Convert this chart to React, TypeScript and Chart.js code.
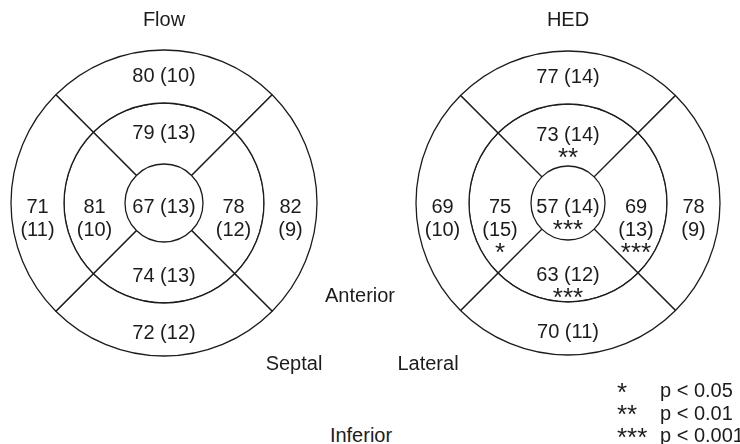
import React, { useEffect, useRef } from 'react';
import { Chart, registerables } from 'chart.js';

Chart.register(...registerables);

// ---- data ----
// segment order (clockwise from top): Anterior, Lateral, Inferior, Septal
const segmentNames = ['Anterior', 'Lateral', 'Inferior', 'Septal'];

const flowOuterMean = [80, 82, 72, 71];
const flowOuterSd = [10, 9, 12, 11];
const flowOuterSig = ['', '', '', ''];
const flowMiddleMean = [79, 78, 74, 81];
const flowMiddleSd = [13, 12, 13, 10];
const flowMiddleSig = ['', '', '', ''];
const flowApexMean = [67];
const flowApexSd = [13];
const flowApexSig = [''];

const hedOuterMean = [77, 78, 70, 69];
const hedOuterSd = [14, 9, 11, 10];
const hedOuterSig = ['', '', '', ''];
const hedMiddleMean = [73, 69, 63, 75];
const hedMiddleSd = [14, 13, 12, 15];
const hedMiddleSig = ['**', '***', '***', '*'];
const hedApexMean = [57];
const hedApexSd = [14];
const hedApexSig = ['***'];

const sigSymbols = ['*', '**', '***'];
const sigLabels = ['p < 0.05', 'p < 0.01', 'p < 0.001'];

const orientationLabels = ['Anterior', 'Septal', 'Lateral', 'Inferior'];

// ---- style ----
const INK = '#1c1c1c';
const FAMILY = '"Liberation Sans", Arial, Helvetica, sans-serif';
const FONT = `20px ${FAMILY}`;
const STAR_FONT = `26px ${FAMILY}`;

const segmentLabelPlugin = {
  id: 'segmentLabels',
  afterDatasetsDraw(chart: any) {
    const ctx = chart.ctx as CanvasRenderingContext2D;
    ctx.save();
    ctx.fillStyle = INK;
    ctx.textAlign = 'center';
    ctx.textBaseline = 'middle';
    chart.data.datasets.forEach((ds: any, di: number) => {
      const meta = chart.getDatasetMeta(di);
      meta.data.forEach((arc: any, i: number) => {
        const full = arc.circumference >= 2 * Math.PI - 1e-6;
        const pos = full ? { x: arc.x, y: arc.y } : arc.tooltipPosition(false);
        const mean = ds.means[i];
        const sd = ds.sds[i];
        const sig = ds.sigs[i];
        const side = !full && (i === 1 || i === 3);
        const lines = side ? [`${mean}`, `(${sd})`] : [`${mean} (${sd})`];
        const y0 = pos.y + (i === 0 && !full ? 0 : 4);
        ctx.font = FONT;
        lines.forEach((t, k) => ctx.fillText(t, pos.x, y0 + k * 23));
        if (sig) {
          ctx.font = STAR_FONT;
          const sy = y0 + (lines.length - 1) * 23 + 24;
          ctx.fillText(sig, pos.x, sy);
        }
      });
    });
    ctx.restore();
  },
};

function ring(means: number[], sds: number[], sigs: string[], weight: number, border: number) {
  return {
    data: means.map(() => 1),
    means,
    sds,
    sigs,
    weight,
    backgroundColor: '#ffffff',
    borderColor: INK,
    borderWidth: border,
    hoverOffset: 0,
  };
}

function makeConfig(title: string, datasets: any[], radius: number) {
  return {
    type: 'doughnut' as const,
    data: {
      labels: segmentNames,
      datasets,
    },
    options: {
      responsive: false,
      animation: false,
      events: [],
      cutout: 0,
      radius,
      rotation: -45,
      layout: { padding: { top: 0, bottom: 70, left: 0, right: 0 } },
      plugins: {
        legend: { display: false },
        tooltip: { enabled: false },
        title: {
          display: true,
          text: title,
          color: INK,
          font: { size: 20, family: FAMILY, weight: 'normal' },
          padding: { top: 8, bottom: 0 },
        },
      },
    },
    plugins: [segmentLabelPlugin],
  };
}

function Bullseye(props: { config: any; left: number }) {
  const ref = useRef<HTMLCanvasElement | null>(null);
  useEffect(() => {
    if (!ref.current) return;
    const chart = new Chart(ref.current, props.config);
    return () => chart.destroy();
  }, []);
  return (
    <canvas
      ref={ref}
      width={328}
      height={444}
      style={{ position: 'absolute', left: props.left, top: 0, width: 328, height: 444 }}
    />
  );
}

// the apex ring's outline is given by the inner edge of the middle ring
const flowConfig = makeConfig(
  'Flow',
  [
    ring(flowOuterMean, flowOuterSd, flowOuterSig, 53, 1.3),
    ring(flowMiddleMean, flowMiddleSd, flowMiddleSig, 61, 1.3),
    ring(flowApexMean, flowApexSd, flowApexSig, 39, 0),
  ],
  153
);

const hedConfig = makeConfig(
  'HED',
  [
    ring(hedOuterMean, hedOuterSd, hedOuterSig, 53, 1.3),
    ring(hedMiddleMean, hedMiddleSd, hedMiddleSig, 62, 1.3),
    ring(hedApexMean, hedApexSd, hedApexSig, 37, 0),
  ],
  152
);

const orientationPos = [
  { x: 360, y: 295 },
  { x: 294, y: 363 },
  { x: 428, y: 363 },
  { x: 361, y: 435 },
];

const textStyle: React.CSSProperties = {
  position: 'absolute',
  fontFamily: FAMILY,
  fontSize: 20,
  lineHeight: '24px',
  color: INK,
  whiteSpace: 'nowrap',
};

export default function App() {
  return (
    <div
      style={{
        position: 'absolute',
        left: 0,
        top: 0,
        width: 740,
        height: 444,
        overflow: 'hidden',
        background: '#ffffff',
      }}
    >
      <Bullseye config={flowConfig} left={0} />
      <Bullseye config={hedConfig} left={404} />
      {orientationLabels.map((t, i) => (
        <div
          key={t}
          style={{
            ...textStyle,
            left: orientationPos[i].x,
            top: orientationPos[i].y - 12,
            transform: 'translateX(-50%)',
          }}
        >
          {t}
        </div>
      ))}
      {sigSymbols.map((s, i) => (
        <React.Fragment key={s}>
          <div style={{ ...textStyle, fontSize: 26, left: 617, top: 390 + i * 22.5 - 10.3 }}>{s}</div>
          <div style={{ ...textStyle, left: 660, top: 390 + i * 22.5 - 12 }}>{sigLabels[i]}</div>
        </React.Fragment>
      ))}
    </div>
  );
}
